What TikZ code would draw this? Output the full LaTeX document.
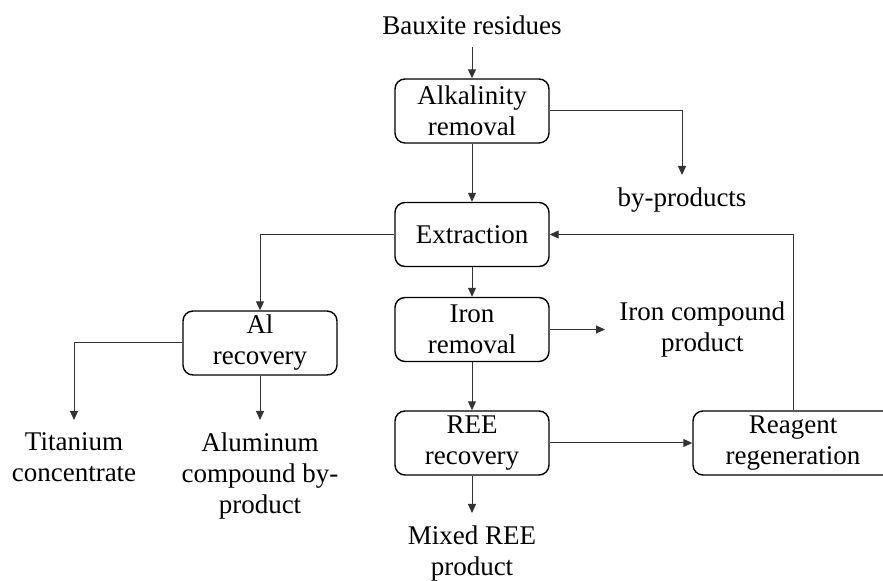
\documentclass[tikz,border=0pt]{standalone}
\usepackage{fontspec}
\setmainfont{Liberation Serif}
\usetikzlibrary{arrows.meta}
\definecolor{lnkgrey}{HTML}{333333}
\newcommand{\fL}{\fontsize{13.5}{15.5}\selectfont}
\tikzset{every node/.style={font=\fL},
  unit/.style={draw=black,line width=0.7pt,rounded corners=5pt,align=center,
    minimum width=77pt,minimum height=32pt,inner sep=1pt},
  stream/.style={align=center,inner xsep=7pt,inner ysep=6pt}}

\begin{document}
\begin{tikzpicture}[x=0.5pt,y=-0.5pt,
    lnk/.style={draw=lnkgrey,line width=0.5pt},
    arr/.style={lnk,-{Triangle[length=4.5pt,width=4pt]}}]
  \path[use as bounding box] (0,0) rectangle (883,581);
  \clip (0,0) rectangle (883,581);

  % Main line: residue through the process units, x = 472
  \node[stream,anchor=south] (baux) at (472,47) {Bauxite residues};
  \node[unit] (alk) at (472,111) {Alkalinity\\removal};
  \node[unit] (extr) at (472,234.5) {Extraction};
  \node[unit] (iron) at (472,329.5) {Iron\\removal};
  \node[unit] (ree) at (472,443) {REE\\recovery};
  \node[stream,anchor=north] (mixed) at (472,513) {Mixed REE\\product};

  % Side units: aluminium branch on the left, reagent loop on the right
  \node[unit] (al) at (260,343) {Al\\recovery};
  \node[unit,minimum width=100pt] (reag) at (793,443) {Reagent\\regeneration};

  % Streams leaving the process
  \node[stream,anchor=north] (byprod) at (682,175) {by-products};
  \node[stream,anchor=west] (ironout) at (605,329.5) {Iron compound\\product};
  \node[stream,anchor=north] (titan) at (74,420) {Titanium\\concentrate};
  \node[stream,anchor=north] (alum) at (260,420) {Aluminum\\compound by-\\product};

  \draw[arr] (baux) -- (alk);
  \draw[arr] (alk) -- (extr);
  \draw[arr] (alk.east) -| (byprod.north);
  \draw[arr] (extr) -- (iron);
  \draw[arr] (extr.west) -| (al.north);
  \draw[arr] (iron) -- (ironout);
  \draw[arr] (iron) -- (ree);
  \draw[arr] (ree) -- (mixed);
  \draw[arr] (ree) -- (reag);
  % Regenerated reagent returns to the extraction step
  \draw[arr] (reag.north) |- (extr.east);
  \draw[arr] (al.west) -| (titan.north);
  \draw[arr] (al) -- (alum);
\end{tikzpicture}
\end{document}
